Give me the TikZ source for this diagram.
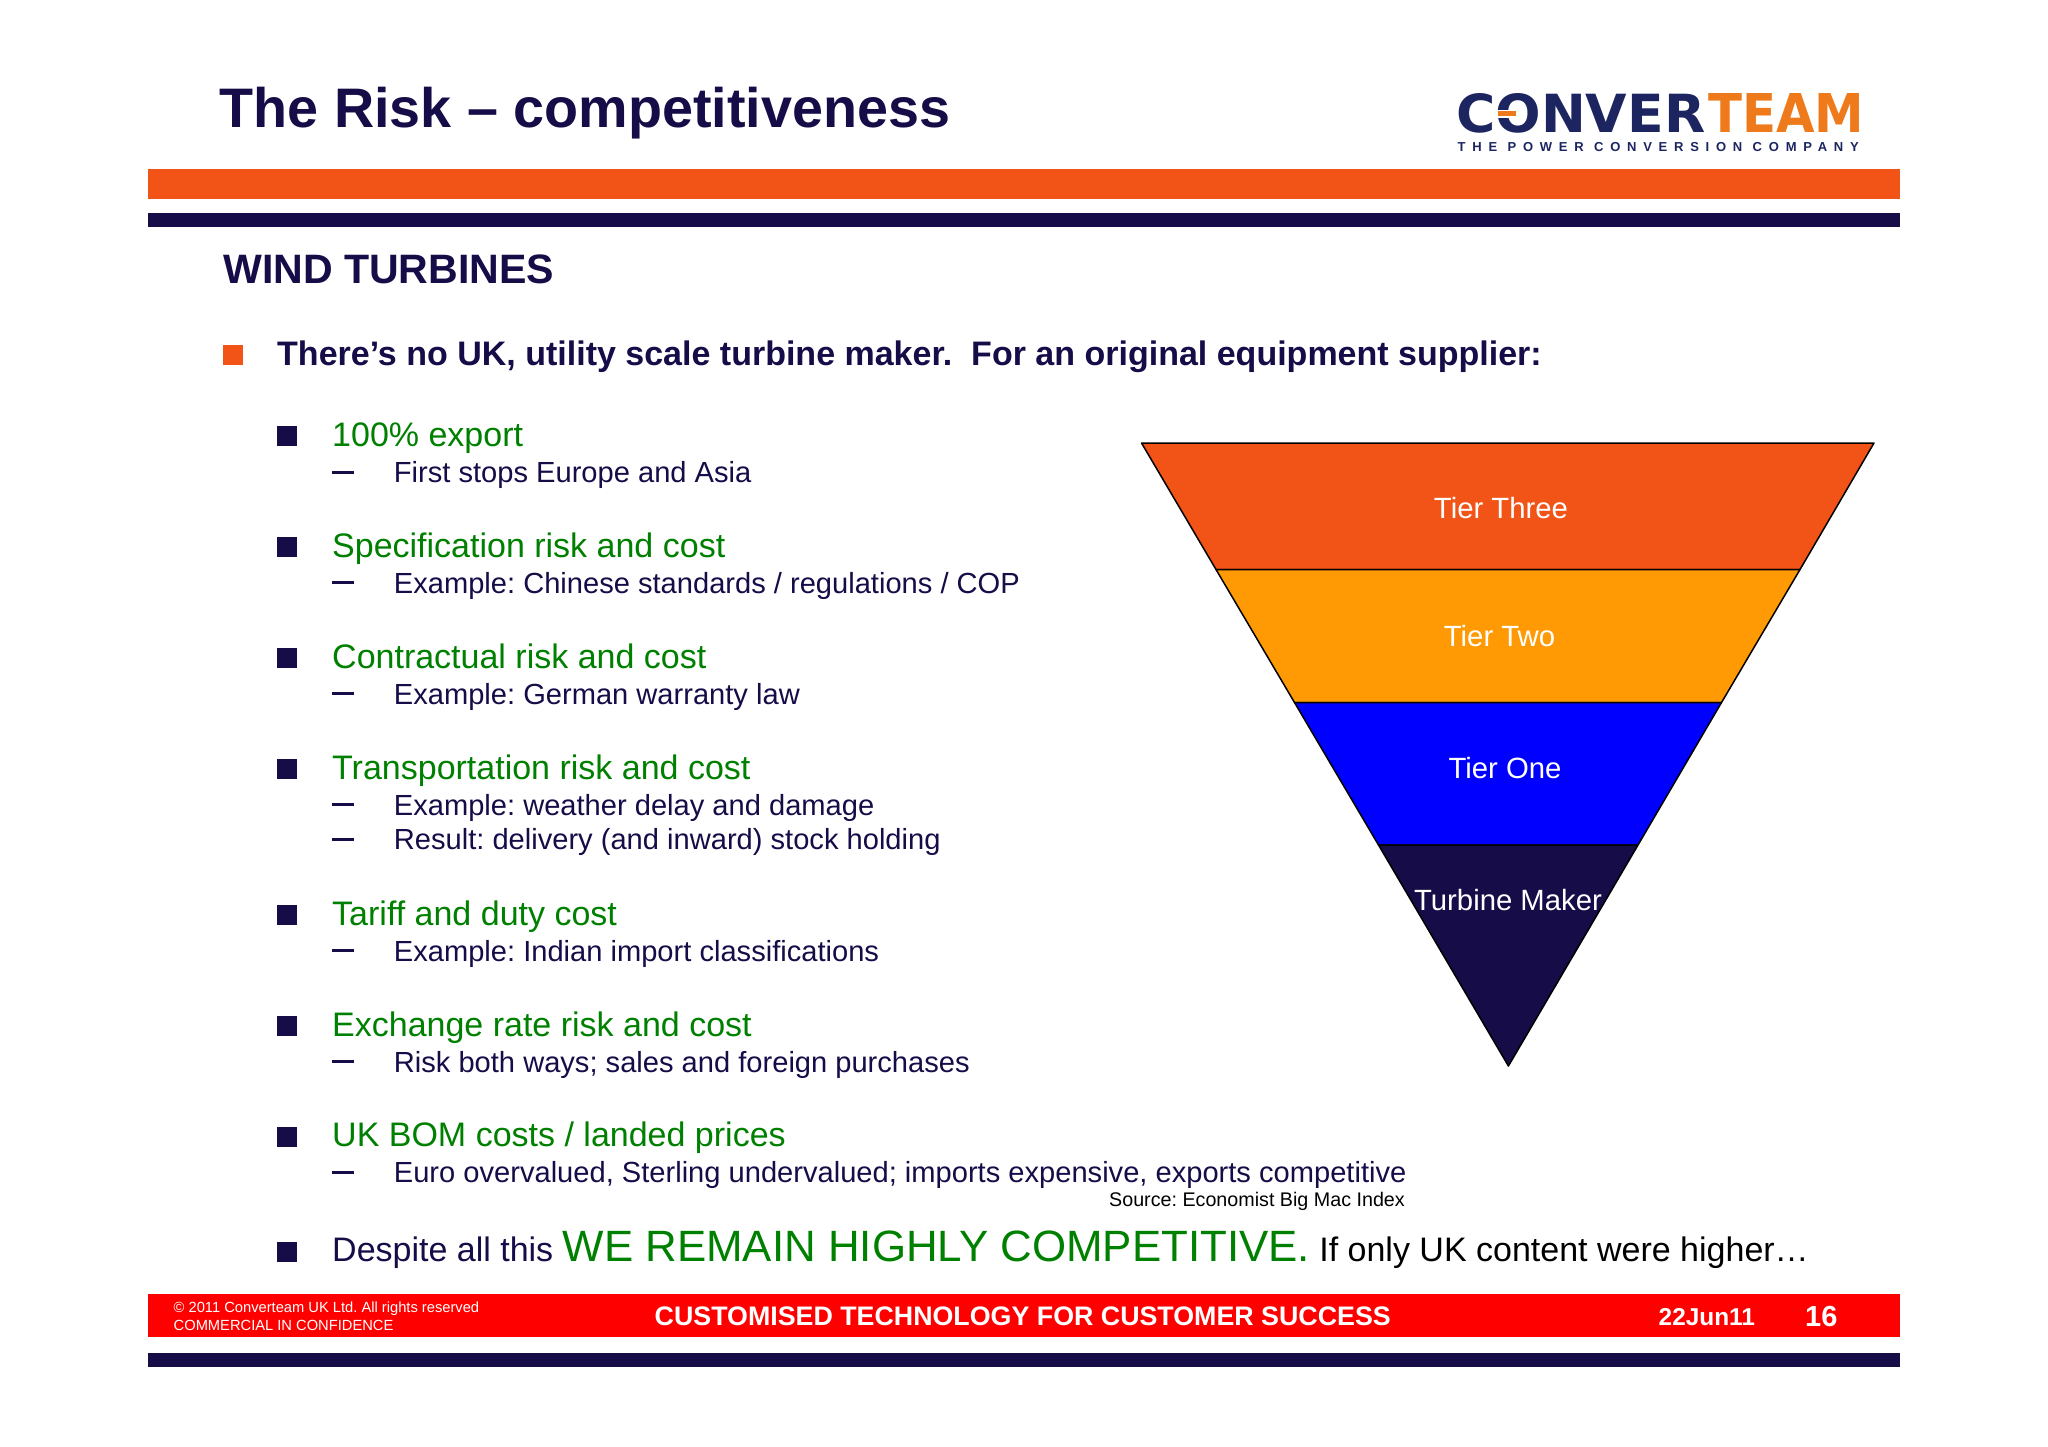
\documentclass[tikz,border=0pt]{standalone}
\usepackage{fontspec}
\setmainfont{Liberation Sans}
\newfontfamily\tagfont[LetterSpace=52]{Liberation Sans}
\newfontfamily\logofont{DejaVu Sans}
\definecolor{navyc}{HTML}{150C48}
\definecolor{orangec}{HTML}{F25417}
\definecolor{amberc}{HTML}{FF9A04}
\definecolor{greenc}{HTML}{008000}
\definecolor{logoorange}{HTML}{EE7A1C}
\definecolor{logonavy}{HTML}{1C2560}
\newcommand{\fsz}[1]{\fontsize{#1}{#1}\selectfont}
\tikzset{
	txt/.style={anchor=base west,inner sep=0pt,text=navyc},
	greenitem/.style={txt,text=greenc,font=\fsz{34}},
	subitem/.style={txt,font=\fsz{29.1}},
	tier/.style={inner sep=0pt,text=white,font=\fsz{29.3}},
	foot/.style={txt,text=white,font=\bfseries\fsz{26.8}},
	band/.style={draw=black,line width=1.5pt,line join=round}
}
\frenchspacing

\begin{document}
\begin{tikzpicture}[x=1pt,y=-1pt]
	\useasboundingbox (0,0) rectangle (2048,1447);

	\fill[orangec] (148,169) rectangle (1900,199);
	\fill[navyc] (148,213) rectangle (1900,227);
	\fill[red] (148,1294) rectangle (1900,1337);
	\fill[navyc] (148,1352.5) rectangle (1900,1366.5);

	\node[txt,font=\bfseries\fsz{55.7}] (title) at (219.5,128) {The Risk – competitiveness};
	\node[txt,font=\bfseries\fsz{41.1}] (wind) at (223,284) {WIND TURBINES};
	\fill[orangec] (223,345) rectangle ++(20,20);
	\node[txt,font=\bfseries\fsz{34}] (lead) at (277,365.2) {There’s no UK, utility scale turbine maker.\ \ For an original equipment supplier:};

	\node[anchor=base west,inner sep=0pt,text=logonavy] (logoa) at (1456,133) {\resizebox{249pt}{39pt}{\logofont\bfseries CONVER}};
	\node[anchor=base west,inner sep=0pt,text=logoorange] (logob) at (1708,133) {\resizebox{156pt}{39pt}{\logofont\bfseries TEAM}};
	\fill[logoorange,draw=white,line width=1.5pt] (1497,110.5) rectangle ++(20,6.5);
	\node[anchor=base west,inner sep=0pt,text=logonavy,font=\tagfont\bfseries\fsz{13}] (logoc) at (1457.5,151.2) {THE POWER CONVERSION COMPANY};

	\fill[navyc] (277,426) rectangle ++(20,20);
	\node[greenitem] (export) at (332,446.5) {100\% export};
	\fill[navyc] (332,470.5) rectangle ++(22,3);
	\node[subitem] (exportsub) at (393.7,482.5) {First stops Europe and Asia};

	\fill[navyc] (277,537) rectangle ++(20,20);
	\node[greenitem] (spec) at (332,557) {Specification risk and cost};
	\fill[navyc] (332,581) rectangle ++(22,3);
	\node[subitem] (specsub) at (393.7,593.5) {Example: Chinese standards / regulations / COP};

	\fill[navyc] (277,648) rectangle ++(20,20);
	\node[greenitem] (contract) at (332,668) {Contractual risk and cost};
	\fill[navyc] (332,692) rectangle ++(22,3);
	\node[subitem] (contractsub) at (393.7,704.5) {Example: German warranty law};

	\fill[navyc] (277,759) rectangle ++(20,20);
	\node[greenitem] (transport) at (332,779.3) {Transportation risk and cost};
	\fill[navyc] (332,803) rectangle ++(22,3);
	\node[subitem] (transportsub) at (393.7,815.3) {Example: weather delay and damage};
	\fill[navyc] (332,837.5) rectangle ++(22,3);
	\node[subitem] (transportres) at (393.7,849.8) {Result: delivery (and inward) stock holding};

	\fill[navyc] (277,905) rectangle ++(20,20);
	\node[greenitem] (tariff) at (332,925.2) {Tariff and duty cost};
	\fill[navyc] (332,949) rectangle ++(22,3);
	\node[subitem] (tariffsub) at (393.7,961) {Example: Indian import classifications};

	\fill[navyc] (277,1016) rectangle ++(20,20);
	\node[greenitem] (exchange) at (332,1036) {Exchange rate risk and cost};
	\fill[navyc] (332,1060) rectangle ++(22,3);
	\node[subitem] (exchangesub) at (393.7,1072) {Risk both ways; sales and foreign purchases};

	\fill[navyc] (277,1126.5) rectangle ++(20,20);
	\node[greenitem] (bom) at (332,1146.5) {UK BOM costs / landed prices};
	\fill[navyc] (332,1170.5) rectangle ++(22,3);
	\node[subitem] (bomsub) at (393.7,1182.5) {Euro overvalued, Sterling undervalued; imports expensive, exports competitive};
	\node[txt,anchor=base east,text=black,font=\fsz{19.7}] (source) at (1405,1206.5) {Source: Economist Big Mac Index};

	\fill[navyc] (277,1241.5) rectangle ++(20,20);
	\node[txt,font=\fsz{34}] (despite) at (332,1261.5) {Despite all this {\fsz{43.85}\color{greenc}WE REMAIN HIGHLY COMPETITIVE.} {\color{black}If only UK content were higher…}};

	\filldraw[band,fill=orangec] (1141.5,443) -- (1874,443) -- (1800,569.5) -- (1216,569.5) -- cycle;
	\filldraw[band,fill=amberc] (1216,569.5) -- (1800,569.5) -- (1721.5,702.5) -- (1294.5,702.5) -- cycle;
	\filldraw[band,fill=blue] (1294.5,702.5) -- (1721.5,702.5) -- (1638,845) -- (1378.5,845) -- cycle;
	\filldraw[band,fill=navyc] (1378.5,845) -- (1638,845) -- (1508.4,1066) -- cycle;

	\node[tier] (three) at (1501,508.3) {Tier Three};
	\node[tier] (two) at (1499.5,636) {Tier Two};
	\node[tier] (one) at (1505,768.5) {Tier One};
	\node[tier] (maker) at (1508,900.5) {Turbine Maker};

	\node[txt,text=white,font=\fsz{14.7}] (copy) at (173.5,1312.5) {© 2011 Converteam UK Ltd. All rights reserved};
	\node[txt,text=white,font=\fsz{14.7}] (conf) at (173.5,1330.4) {COMMERCIAL IN CONFIDENCE};
	\node[foot] (motto) at (654.5,1325.4) {CUSTOMISED TECHNOLOGY FOR CUSTOMER SUCCESS};
	\node[foot,font=\bfseries\fsz{24.4}] (date) at (1658.5,1325.4) {22Jun11};
	\node[foot,font=\bfseries\fsz{29}] (page) at (1805,1326.4) {16};
\end{tikzpicture}
\end{document}
